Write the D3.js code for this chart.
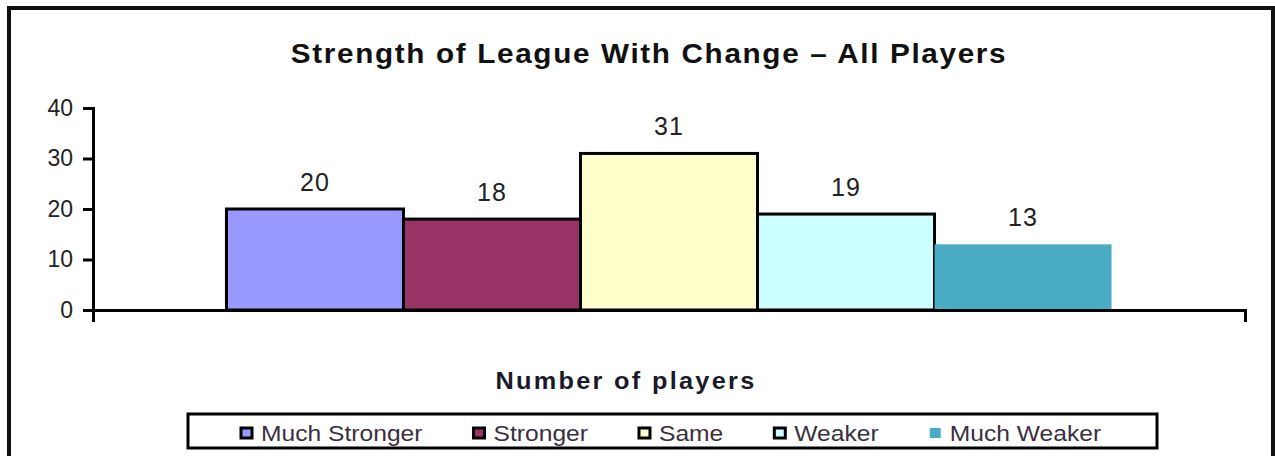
<!DOCTYPE html>
<html>
<head>
<meta charset="utf-8">
<script src="https://cdn.jsdelivr.net/npm/d3@7"></script>
<style>
  body { margin: 0; background: #fff; }
  svg { display: block; font-family: Arial, "Liberation Sans", sans-serif; }
  .axis path, .axis line { stroke: #000; stroke-width: 3; }
  .axis text { font-size: 23px; fill: #222; }
</style>
</head>
<body>
<div id="chart"></div>
<script>
"use strict";

// данные с картинки
var categories = ["Much Stronger", "Stronger", "Same", "Weaker", "Much Weaker"];
var values = [20, 18, 31, 19, 13];
var yTicks = [0, 10, 20, 30, 40];
var chartTitle = "Strength of League With Change \u2013 All Players";
var axisTitle = "Number of players";

var width = 1275, height = 456;
var plotLeft = 93, plotRight = 1245, plotTop = 108, plotBottom = 310;

var palette = d3.scaleOrdinal()
  .domain(categories)
  .range(["#9999ff", "#993366", "#ffffcc", "#ccffff", "#4aabc5"]);

var svg = d3.select('#chart')
  .append('svg')
  .attr('width', width)
  .attr('height', height);

// рамка всей диаграммы (низ уходит за край)
svg.append('rect')
  .attr('x', 9).attr('y', 8)
  .attr('width', 1264).attr('height', 480)
  .attr('fill', '#fff')
  .attr('stroke', '#111')
  .attr('stroke-width', 4);

var x = d3.scaleBand()
  .domain(categories)
  .range([plotLeft, plotRight])
  .paddingInner(0)
  .paddingOuter(0.754);

var y = d3.scaleLinear()
  .domain([0, 40])
  .range([plotBottom, plotTop]);

// столбики
svg.append('g')
  .selectAll('rect')
  .data(values)
  .enter().append('rect')
  .attr('x', function(d, i) { return x(categories[i]); })
  .attr('y', function(d) { return y(d); })
  .attr('width', x.bandwidth())
  .attr('height', function(d) { return y(0) - y(d); })
  .attr('fill', function(d, i) { return palette(categories[i]); })
  .attr('stroke', function(d, i) { return i === 4 ? 'none' : '#000'; })
  .attr('stroke-width', 3);

// подписи значений
svg.append('g')
  .selectAll('text')
  .data(values)
  .enter().append('text')
  .attr('x', function(d, i) { return x(categories[i]) + x.bandwidth() / 2; })
  .attr('y', function(d) { return y(d) - 18; })
  .attr('text-anchor', 'middle')
  .style('font-size', '25px')
  .style('letter-spacing', '1px')
  .attr('fill', '#222')
  .text(function(d) { return d; });

// ось Y
var yAxis = d3.axisLeft(y)
  .tickValues(yTicks)
  .tickSizeInner(10)
  .tickSizeOuter(0)
  .tickPadding(10);

svg.append('g')
  .attr('class', 'axis')
  .attr('transform', 'translate(' + plotLeft + ',0)')
  .call(yAxis);

// ось X: одна категория, засечки по краям
var frame = d3.scaleLinear().domain([0, 1]).range([plotLeft, plotRight]);
var xAxis = d3.axisBottom(frame)
  .tickValues([0, 1])
  .tickFormat('')
  .tickSizeInner(12)
  .tickSizeOuter(0);

svg.append('g')
  .attr('class', 'axis')
  .attr('transform', 'translate(0,' + plotBottom + ')')
  .call(xAxis);

svg.selectAll('.axis .domain').attr('stroke-linecap', 'square');

// заголовки: чуть растянуты и разрежены
svg.append('text')
  .attr('transform', 'translate(649,63) scale(1.1,1)')
  .attr('text-anchor', 'middle')
  .style('font-size', '27px')
  .style('font-weight', 'bold')
  .style('letter-spacing', '1.5px')
  .attr('fill', '#111')
  .text(chartTitle);

svg.append('text')
  .attr('transform', 'translate(626,389) scale(1.1,1)')
  .attr('text-anchor', 'middle')
  .style('font-size', '23px')
  .style('font-weight', 'bold')
  .style('letter-spacing', '2.1px')
  .attr('fill', '#1a1a2a')
  .text(axisTitle);

// легенда
svg.append('rect')
  .attr('x', 188).attr('y', 414)
  .attr('width', 969).attr('height', 34)
  .attr('fill', '#fff')
  .attr('stroke', '#000')
  .attr('stroke-width', 3);

var stretch = 1.12;
var legend = svg.append('g').attr('class', 'legend');
var cursor = 240;

categories.forEach(function(c, i) {
  legend.append('rect')
    .attr('x', cursor + 1)
    .attr('y', 428)
    .attr('width', 11)
    .attr('height', 10)
    .attr('fill', palette(c))
    .attr('stroke', i === 4 ? 'none' : '#000')
    .attr('stroke-width', 3);

  var label = legend.append('text')
    .attr('transform', 'translate(' + (cursor + 21) + ',441) scale(' + stretch + ',1)')
    .style('font-size', '22px')
    .attr('fill', '#3a3040')
    .text(c);

  cursor += 21 + label.node().getComputedTextLength() * stretch + 50;
});
</script>
</body>
</html>
